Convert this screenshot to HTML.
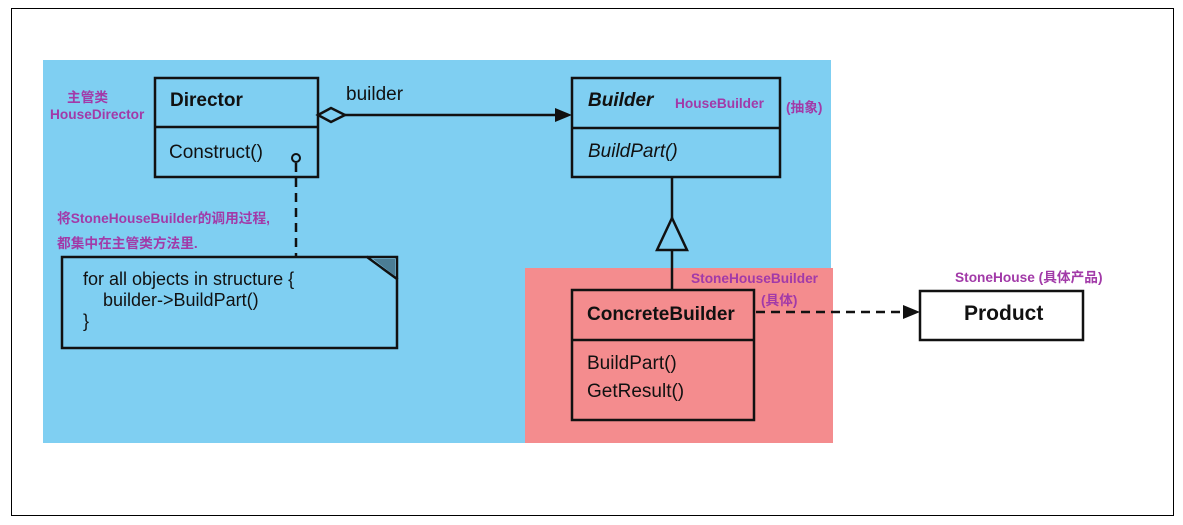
<!DOCTYPE html>
<html><head><meta charset="utf-8"><style>
body{margin:0;background:#fff;width:1183px;height:525px;position:relative;overflow:hidden;font-family:"Liberation Sans",Arial,sans-serif}
.a{position:absolute}
.p{position:absolute;color:#a23aa8;font-weight:bold;font-size:13.7px;font-family:"Liberation Sans","Noto Sans CJK SC",sans-serif;white-space:nowrap}
.t{position:absolute;font-size:19px;color:#111;white-space:nowrap}
</style></head><body>
<div class="a" style="left:11px;top:8px;width:1161px;height:506px;border:1px solid #000"></div>
<div class="a" style="left:43px;top:60px;width:788px;height:383px;background:#7fcff2"></div>
<div class="a" style="left:525px;top:268px;width:308px;height:175px;background:#f48c8e"></div>
<svg class="a" style="left:0;top:0" width="1183" height="525">
<g stroke="#111" stroke-width="2.5" fill="none">
<rect x="155" y="78" width="163" height="99"/><line x1="155" y1="127" x2="318" y2="127"/>
<rect x="572" y="78" width="208" height="99"/><line x1="572" y1="128" x2="780" y2="128"/>
<rect x="572" y="290" width="182" height="130"/><line x1="572" y1="340" x2="754" y2="340"/>
<rect x="920" y="291" width="163" height="49" fill="#fff"/>
<path d="M62 257 H367 L397 279 V348 H62 Z"/>
<path d="M367 257 H397 V279" />
<path d="M318 115 L331 108 L345 115 L331 122 Z" fill="#7fcff2"/>
<line x1="345" y1="115" x2="560" y2="115"/>
<line x1="672" y1="177" x2="672" y2="218"/><line x1="672" y1="250" x2="672" y2="290"/>
<path d="M672 218 L657 250 H687 Z"/>
<line x1="296" y1="163" x2="296" y2="257" stroke-dasharray="9,6"/>
<line x1="756" y1="312" x2="905" y2="312" stroke-dasharray="9,6"/>
<circle cx="296" cy="158" r="4" fill="#7fcff2" stroke-width="2"/>
</g>
<path d="M373 259 L395 259 L395 276 Z" fill="#4b7d95"/>
<path d="M555 108 L572 115 L555 122 Z" fill="#111"/>
<path d="M903 305 L920 312 L903 319 Z" fill="#111"/>
</svg>
<div class="t" style="left:170px;top:90px;font-weight:bold">Director</div>
<div class="t" style="left:169px;top:142px">Construct()</div>
<div class="t" style="left:346px;top:84px">builder</div>
<div class="t" style="left:588px;top:90px;font-weight:bold;font-style:italic">Builder</div>
<div class="t" style="left:588px;top:141px;font-style:italic">BuildPart()</div>
<div class="t" style="left:587px;top:304px;font-weight:bold">ConcreteBuilder</div>
<div class="t" style="left:587px;top:353px">BuildPart()</div>
<div class="t" style="left:587px;top:381px">GetResult()</div>
<div class="t" style="left:964px;top:302px;font-weight:bold;font-size:21px">Product</div>
<div class="t" style="left:83px;top:269px;font-size:18px;line-height:21px">for all objects in structure {<br>&nbsp;&nbsp;&nbsp;&nbsp;builder-&gt;BuildPart()<br>}</div>
<div class="p" style="left:67px;top:86px">主管类</div>
<div class="p" style="left:50px;top:107px">HouseDirector</div>
<div class="p" style="left:57px;top:207px">将StoneHouseBuilder的调用过程,</div>
<div class="p" style="left:57px;top:232px">都集中在主管类方法里.</div>
<div class="p" style="left:675px;top:96px">HouseBuilder</div>
<div class="p" style="left:786px;top:96px">(抽象)</div>
<div class="p" style="left:691px;top:271px">StoneHouseBuilder</div>
<div class="p" style="left:761px;top:289px">(具体)</div>
<div class="p" style="left:955px;top:266px">StoneHouse (具体产品)</div>
</body></html>
